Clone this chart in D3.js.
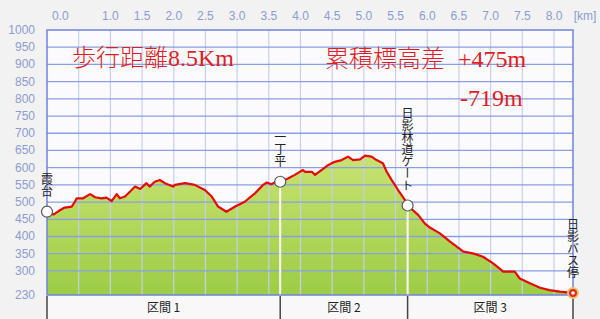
<!DOCTYPE html>
<html>
<head>
<meta charset="utf-8">
<script src="https://cdn.jsdelivr.net/npm/d3@7"></script>
<style>
  body { margin: 0; background: #f2f2f2; }
  svg { display: block; }
</style>
</head>
<body>
<div id="chart"></div>
<script>
// profile: distance [km] and elevation [m]
const profileKm = [0, 0.10, 0.13, 0.21, 0.28, 0.39, 0.44, 0.47, 0.57, 0.68, 0.76, 0.86, 0.94, 1.02, 1.10, 1.15, 1.23, 1.28, 1.39, 1.47, 1.57, 1.62, 1.70, 1.78, 1.86, 1.99, 2.02, 2.18, 2.33, 2.49, 2.60, 2.70, 2.83, 2.97, 3.12, 3.28, 3.41, 3.47, 3.54, 3.62, 3.68, 3.81, 3.91, 4.04, 4.07, 4.18, 4.23, 4.33, 4.44, 4.54, 4.65, 4.75, 4.83, 4.94, 5.02, 5.12, 5.20, 5.30, 5.36, 5.44, 5.54, 5.65, 5.69, 5.86, 5.96, 6.04, 6.20, 6.36, 6.57, 6.72, 6.88, 7.04, 7.20, 7.38, 7.46, 7.62, 7.78, 7.93, 8.09, 8.25, 8.30];
const profileElev = [472, 464, 467, 477, 484, 487, 501, 511, 511, 523, 514, 511, 513, 503, 523, 511, 516, 525, 545, 538, 555, 545, 559, 564, 555, 545, 550, 555, 550, 535, 516, 487, 472, 487, 501, 525, 550, 557, 552, 559, 559, 569, 579, 593, 588, 588, 579, 593, 608, 617, 622, 632, 622, 624, 635, 632, 622, 613, 588, 564, 535, 506, 490, 462, 438, 426, 409, 385, 356, 351, 341, 322, 298, 298, 278, 264, 251, 244, 240, 237, 236];

const wpName = ["霞台", "一丁平", "日影林道ゲート", "日影バス停"];
const wpKm = [0, 3.68, 5.69, 8.30];
const wpElev = [472, 559, 490, 236];

const sectionName = ["区間 1", "区間 2", "区間 3"];

const xTicks = [0, 1.0, 1.5, 2.0, 2.5, 3.0, 3.5, 4.0, 4.5, 5.0, 5.5, 6.0, 6.5, 7.0, 7.5, 8.0];
const xGrid = [0.5, 1.0, 1.5, 2.0, 2.5, 3.0, 3.5, 4.0, 4.5, 5.0, 5.5, 6.0, 6.5, 7.0, 7.5, 8.0];
const yTicks = [1000, 950, 900, 850, 800, 750, 700, 650, 600, 550, 500, 450, 400, 350, 300, 230];
const yGrid = [950, 900, 850, 800, 750, 700, 650, 600, 550, 500, 450, 400, 350, 300];

const W = 600, H = 319;
const pLeft = 47, pRight = 573, pTop = 30, pBottom = 295;

const svg = d3.select('#chart').append('svg').attr('width', W).attr('height', H);

const x = d3.scaleLinear().domain([0, 8.3]).range([pLeft, pRight]);
const y = d3.scaleLinear().domain([230, 1000]).range([pBottom, pTop]);

// plot background
svg.append('rect')
	.attr('x', pLeft).attr('y', pTop)
	.attr('width', pRight - pLeft).attr('height', pBottom - pTop)
	.attr('fill', '#fbfbfd');

const defs = svg.append('defs');
const grad = defs.append('linearGradient')
	.attr('id', 'fillGrad')
	.attr('x1', 0).attr('y1', 0).attr('x2', 0).attr('y2', 1);
grad.append('stop').attr('offset', '0%').attr('stop-color', '#c8e272');
grad.append('stop').attr('offset', '100%').attr('stop-color', '#9ccd45');

const pts = profileKm.map((k, i) => [k, profileElev[i]]);

svg.append('path')
	.datum(pts)
	.attr('fill', 'url(#fillGrad)')
	.attr('d', d3.area().x(d => x(d[0])).y0(pBottom).y1(d => y(d[1])));

// grid drawn over the fill
svg.append('g').selectAll('line')
	.data(xGrid).join('line')
	.attr('x1', d => x(d)).attr('x2', d => x(d))
	.attr('y1', pTop).attr('y2', pBottom)
	.attr('stroke', '#c4d0ec').attr('stroke-width', 1.2);

svg.append('g').selectAll('line')
	.data(yGrid).join('line')
	.attr('x1', pLeft).attr('x2', pRight)
	.attr('y1', d => y(d)).attr('y2', d => y(d))
	.attr('stroke', '#8a9fe2').attr('stroke-width', 1.3);

// white drop lines from the middle waypoints
svg.append('g').selectAll('line')
	.data(wpKm.slice(1, 3)).join('line')
	.attr('x1', d => x(d)).attr('x2', d => x(d))
	.attr('y1', (d, i) => y(wpElev[i + 1])).attr('y2', pBottom)
	.attr('stroke', '#ffffff').attr('stroke-width', 2);

svg.append('path')
	.datum(pts)
	.attr('fill', 'none')
	.attr('stroke', '#e60a0a')
	.attr('stroke-width', 2.2)
	.attr('stroke-linejoin', 'round')
	.attr('d', d3.line().x(d => x(d[0])).y(d => y(d[1])));

// border
svg.append('rect')
	.attr('x', pLeft).attr('y', pTop)
	.attr('width', pRight - pLeft).attr('height', pBottom - pTop)
	.attr('fill', 'none').attr('stroke', '#6f84dc').attr('stroke-width', 1.5);

// axis labels
const axisFont = '"Liberation Sans", Arial, sans-serif';
svg.append('g').selectAll('text')
	.data(xTicks).join('text')
	.attr('x', d => d === 0 ? x(d) + 5 : x(d))
	.attr('y', 20)
	.attr('text-anchor', d => d === 0 ? 'start' : 'middle')
	.attr('font-family', axisFont).attr('font-size', 12)
	.attr('fill', '#8c9bd0')
	.text(d => d.toFixed(1));
svg.append('text')
	.attr('x', 585).attr('y', 20).attr('text-anchor', 'middle')
	.attr('font-family', axisFont).attr('font-size', 12)
	.attr('fill', '#8c9bd0')
	.text('[km]');

svg.append('g').selectAll('text')
	.data(yTicks).join('text')
	.attr('x', 35)
	.attr('y', d => y(d) + 4)
	.attr('text-anchor', 'end')
	.attr('font-family', axisFont).attr('font-size', 12)
	.attr('fill', '#8c9bd0')
	.text(d => d);

// section bar
const bounds = [0, wpKm[1], wpKm[2], wpKm[3]];
svg.append('rect')
	.attr('x', pLeft).attr('y', pBottom + 1)
	.attr('width', pRight - pLeft).attr('height', H - pBottom)
	.attr('fill', '#f8f8f8');
svg.append('g').selectAll('line')
	.data(bounds).join('line')
	.attr('x1', d => x(d)).attr('x2', d => x(d))
	.attr('y1', pBottom + 1).attr('y2', H)
	.attr('stroke', '#444').attr('stroke-width', 1.5);
svg.append('g').selectAll('text')
	.data(sectionName).join('text')
	.attr('x', (d, i) => (x(bounds[i]) + x(bounds[i + 1])) / 2)
	.attr('y', 312)
	.attr('text-anchor', 'middle')
	.attr('font-family', '"Noto Sans CJK JP", sans-serif').attr('font-size', 12)
	.attr('fill', '#222')
	.text(d => d);

// waypoint markers
svg.append('g').selectAll('circle')
	.data(wpKm.slice(0, 3)).join('circle')
	.attr('cx', d => x(d))
	.attr('cy', (d, i) => y(wpElev[i]))
	.attr('r', 5.5)
	.attr('fill', '#fff').attr('stroke', '#555').attr('stroke-width', 1.2);

const endX = x(wpKm[3]), endY = y(wpElev[3]);
svg.append('circle')
	.attr('cx', endX).attr('cy', endY).attr('r', 5)
	.attr('fill', '#e02a1a').attr('stroke', '#f0c070').attr('stroke-width', 2);
svg.append('circle')
	.attr('cx', endX).attr('cy', endY).attr('r', 1.8)
	.attr('fill', '#fff');

// vertical waypoint names
svg.append('g').selectAll('text')
	.data(wpName).join('text')
	.attr('x', (d, i) => x(wpKm[i]))
	.attr('y', (d, i) => y(wpElev[i]) - 14)
	.attr('text-anchor', 'end')
	.attr('font-family', '"Noto Sans CJK JP", sans-serif').attr('font-size', 12)
	.attr('fill', '#222')
	.style('writing-mode', 'vertical-rl')
	.style('text-orientation', 'upright')
	.text(d => d);

// headline texts
const headFont = '"Liberation Serif", "Noto Sans CJK JP", serif';
const head = (tx, ty, s) => svg.append('text')
	.attr('x', tx).attr('y', ty)
	.attr('font-family', headFont).attr('font-size', 24)
	.attr('font-weight', 300)
	.attr('fill', '#e21c22')
	.text(s);
head(72, 66, '歩行距離8.5Km');
head(325, 67, '累積標高差');
head(458, 67, '+475m');
head(460, 106, '-719m');
</script>
</body>
</html>
